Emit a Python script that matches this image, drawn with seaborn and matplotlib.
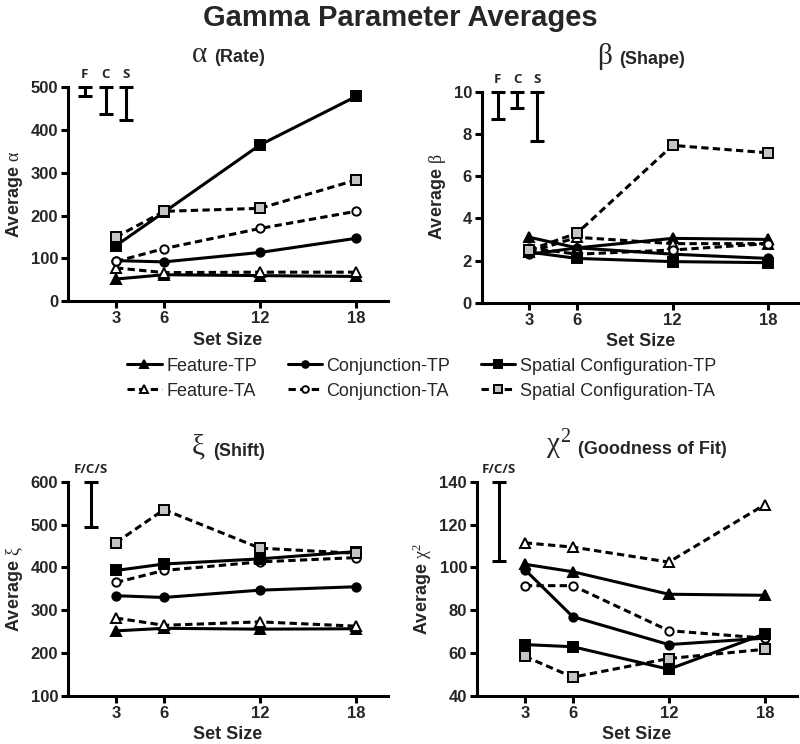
"""Gamma parameter averages by set size, four panels."""

import matplotlib

matplotlib.use("Agg")
import matplotlib.pyplot as plt
import pandas as pd
import seaborn as sns
from matplotlib.offsetbox import AnchoredOffsetbox, HPacker, TextArea


SET_SIZES = [3, 6, 12, 18]
SERIES = [
    "Feature-TP",
    "Feature-TA",
    "Conjunction-TP",
    "Conjunction-TA",
    "Spatial Configuration-TP",
    "Spatial Configuration-TA",
]

# values per series, in SERIES order
ALPHA = [
    [52, 62, 60, 58],
    [78, 67, 68, 68],
    [95, 92, 114, 147],
    [93, 123, 170, 210],
    [130, 208, 365, 478],
    [150, 210, 217, 283],
]
BETA = [
    [3.1, 2.6, 3.05, 3.0],
    [2.4, 3.1, 2.8, 2.8],
    [2.3, 2.6, 2.3, 2.1],
    [2.6, 2.3, 2.5, 2.8],
    [2.4, 2.1, 1.95, 1.9],
    [2.5, 3.3, 7.45, 7.1],
]
XI = [
    [252, 258, 256, 257],
    [282, 265, 273, 263],
    [334, 330, 347, 355],
    [365, 393, 413, 423],
    [393, 408, 420, 437],
    [458, 535, 445, 433],
]
CHI2 = [
    [101.5, 98, 87.5, 87],
    [111.5, 109.5, 102.5, 129.3],
    [99, 77, 64, 67],
    [91.5, 91.5, 70.5, 67],
    [64, 63, 52.5, 69],
    [58.5, 48.8, 57.5, 61.8],
]

# error bar ranges (low, high) shown in the corner of each panel
ALPHA_BAR_LABELS = ["F", "C", "S"]
ALPHA_BAR_LOW = [480, 437, 424]
ALPHA_BAR_HIGH = [500, 500, 500]
BETA_BAR_LABELS = ["F", "C", "S"]
BETA_BAR_LOW = [8.7, 9.2, 7.65]
BETA_BAR_HIGH = [10, 10, 10]
XI_BAR_LABELS = ["F/C/S"]
XI_BAR_LOW = [495]
XI_BAR_HIGH = [600]
CHI2_BAR_LABELS = ["F/C/S"]
CHI2_BAR_LOW = [103]
CHI2_BAR_HIGH = [140]

DASH = (0, (2.4, 1.4))
STYLES = {
    "Feature-TP": ("^", "black", "-"),
    "Feature-TA": ("^", "white", DASH),
    "Conjunction-TP": ("o", "black", "-"),
    "Conjunction-TA": ("o", "white", DASH),
    "Spatial Configuration-TP": ("s", "black", "-"),
    "Spatial Configuration-TA": ("s", "#c4c4c4", DASH),
}

SANS = "Liberation Sans"
SERIF = "Liberation Serif"


def to_long(values):
    rows = []
    for name, ys in zip(SERIES, values):
        for x, y in zip(SET_SIZES, ys):
            rows.append({"series": name, "set_size": x, "value": y})
    return pd.DataFrame(rows)


def add_title(ax, symbol, name):
    box = HPacker(
        children=[
            TextArea(symbol, textprops=dict(fontsize=21, family=SERIF)),
            TextArea(name, textprops=dict(fontsize=13, fontweight="bold", family=SANS)),
        ],
        align="baseline",
        pad=0,
        sep=5,
    )
    anchored = AnchoredOffsetbox(
        loc="lower center",
        child=box,
        pad=0,
        borderpad=0,
        frameon=False,
        bbox_to_anchor=(0.5, 1.09),
        bbox_transform=ax.transAxes,
    )
    ax.add_artist(anchored)


def draw_panel(ax, values, labels, lows, highs, bar_x, ylim, ystep, ylabel, symbol, name):
    df = to_long(values)
    for series in SERIES:
        marker, face, ls = STYLES[series]
        sns.lineplot(
            data=df[df["series"] == series],
            x="set_size",
            y="value",
            ax=ax,
            color="black",
            linewidth=2.2,
            linestyle=ls,
            marker=marker,
            markersize=6.5 if marker != "o" else 6,
            markerfacecolor=face,
            markeredgecolor="black",
            markeredgewidth=1.4,
            label=series,
            legend=False,
        )

    mids = [(lo + hi) / 2 for lo, hi in zip(lows, highs)]
    half = [(hi - lo) / 2 for lo, hi in zip(lows, highs)]
    ax.errorbar(bar_x, mids, yerr=half, fmt="none", ecolor="black",
                elinewidth=2.2, capsize=5, capthick=2.2, clip_on=False)
    for x, hi, lab in zip(bar_x, highs, labels):
        ax.annotate(lab, (x, hi), xytext=(0, 4), textcoords="offset points",
                    ha="center", va="bottom", fontsize=9.5, fontweight="bold",
                    family="Open Sans", annotation_clip=False)

    ax.set_xlim(0, 20)
    ax.set_xticks(SET_SIZES)
    ax.set_ylim(*ylim)
    ax.set_yticks(range(ylim[0], ylim[1] + 1, ystep))
    ax.set_xlabel("Set Size", fontsize=13, fontweight="bold", family=SANS, labelpad=4)
    ax.set_ylabel(ylabel, fontsize=13, fontweight="bold", family=SANS, labelpad=4)
    for lab in ax.get_xticklabels() + ax.get_yticklabels():
        lab.set_fontweight("bold")
        lab.set_family(SANS)
        lab.set_fontsize(12)
    ax.tick_params(width=2.2, length=5, color="black", pad=2)
    for side in ["left", "bottom"]:
        ax.spines[side].set_linewidth(2.2)
        ax.spines[side].set_color("black")
    sns.despine(ax=ax)
    add_title(ax, symbol, name)


sns.set_style("ticks")
plt.rcParams["font.family"] = [SANS, "DejaVu Sans"]
plt.rcParams["mathtext.fontset"] = "custom"
plt.rcParams["mathtext.rm"] = SERIF
plt.rcParams["mathtext.it"] = SERIF
plt.rcParams["mathtext.bf"] = SERIF

fig = plt.figure(figsize=(8, 7.44), dpi=100)
ax_a = fig.add_axes([0.085, 0.595, 0.40, 0.288])
ax_b = fig.add_axes([0.602, 0.593, 0.398, 0.284])
ax_x = fig.add_axes([0.085, 0.0645, 0.40, 0.288])
ax_c = fig.add_axes([0.596, 0.0645, 0.40, 0.288])

draw_panel(ax_a, ALPHA, ALPHA_BAR_LABELS, ALPHA_BAR_LOW, ALPHA_BAR_HIGH,
           [1.05, 2.35, 3.6], (0, 500), 100, r"Average $\alpha$", r"$\alpha$", "(Rate)")
draw_panel(ax_b, BETA, BETA_BAR_LABELS, BETA_BAR_LOW, BETA_BAR_HIGH,
           [1.0, 2.25, 3.5], (0, 10), 2, r"Average $\beta$", r"$\beta$", "(Shape)")
draw_panel(ax_x, XI, XI_BAR_LABELS, XI_BAR_LOW, XI_BAR_HIGH,
           [1.45], (100, 600), 100, r"Average $\xi$", r"$\xi$", "(Shift)")
draw_panel(ax_c, CHI2, CHI2_BAR_LABELS, CHI2_BAR_LOW, CHI2_BAR_HIGH,
           [1.4], (40, 140), 20, r"Average $\chi^2$", r"$\chi^2$", "(Goodness of Fit)")

handles, labels = ax_a.get_legend_handles_labels()
fig.legend(handles, labels, ncol=3, loc="center", bbox_to_anchor=(0.527, 0.491),
           frameon=False, fontsize=13, handlelength=1.9, handletextpad=0.25,
           columnspacing=1.7, labelspacing=0.45, markerscale=0.8)

fig.suptitle("Gamma Parameter Averages", fontsize=21, fontweight="bold", y=0.995)

fig.savefig("out.png", dpi=100)
